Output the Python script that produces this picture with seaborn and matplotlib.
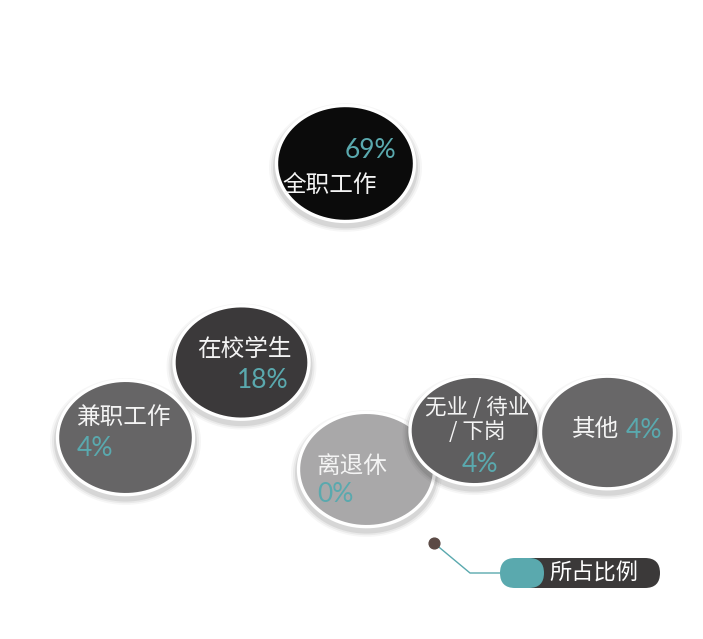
import numpy as np
import pandas as pd
import seaborn as sns
import matplotlib.pyplot as plt
from matplotlib.path import Path
from matplotlib.patches import FancyBboxPatch

sns.set_theme(style="white")
plt.rcParams['font.family'] = ['Noto Sans CJK SC', 'DejaVu Sans']

# data (draw order: back to front)
categories = ['全职工作', '兼职工作', '在校学生', '离退休', '无业 / 待业\n/ 下岗', '其他']
percents = [69, 4, 18, 0, 4, 4]
circle_colors = ['#0b0b0b', '#666566', '#3b393a', '#a9a8a9', '#5f5e5f', '#686768']

# layout in pixel coordinates (image is 703 x 639)
cx = [345, 125, 241, 366, 474, 607]
cy = [163, 437, 362, 469, 430, 432]
widths = [141, 139, 138, 139, 132, 137]
label_pos = [(330, 185), (123, 418), (244, 349), (352, 466), (477, 420), (596, 430)]
label_size = [17, 17, 17, 17, 15.5, 17]
pct_pos = [(370, 151), (95, 448), (263, 380), (335, 495), (480, 464), (644, 430)]

teal = '#5aa9ae'

# ellipse shaped marker (circles are slightly wider than tall)
t = np.linspace(0, 2 * np.pi, 100)
ellipse = Path(np.column_stack([1.19 * np.cos(t), np.sin(t)]), closed=True)

fig = plt.figure(figsize=(7.03, 6.39), dpi=100)
ax = fig.add_axes([0, 0, 1, 1])
ax.set_xlim(0, 703)
ax.set_ylim(639, 0)
ax.axis('off')

px2pt = 0.72
for i, cat in enumerate(categories):
    df = pd.DataFrame({'x': [cx[i]], 'y': [cy[i]], 'cat': [cat]})
    # soft shadow
    for k, a in zip([12, 8, 4], [0.035, 0.05, 0.08]):
        sh = pd.DataFrame({'x': [cx[i]], 'y': [cy[i] + 4]})
        sns.scatterplot(data=sh, x='x', y='y', ax=ax, marker=ellipse,
                        s=((widths[i] + k) * px2pt) ** 2, color='black',
                        alpha=a, linewidth=0, legend=False, zorder=2 * i + 1)
    sns.scatterplot(data=df, x='x', y='y', hue='cat', palette={cat: circle_colors[i]},
                    ax=ax, marker=ellipse, s=((widths[i] - 3) * px2pt) ** 2,
                    edgecolor='white', linewidth=2.4, legend=False, zorder=2 * i + 2)
    lx, ly = label_pos[i]
    px, py = pct_pos[i]
    ax.text(lx, ly, cat, color='#f4f4f4', fontsize=label_size[i], ha='center', va='center',
            linespacing=1.15, zorder=50)
    ax.text(px, py, f'{percents[i]}%', color=teal, fontsize=19, ha='center', va='center',
            family=['Lato', 'DejaVu Sans'], zorder=50)

# legend marker
ax.plot([434, 470, 510], [543, 573, 573], color=teal, lw=1, zorder=60)
ax.scatter([434], [543], s=60, color='#5b4a45', zorder=61)
ax.add_patch(FancyBboxPatch((515, 558), 145, 30, boxstyle='round,pad=0,rounding_size=15',
                            facecolor='#3b3939', edgecolor='none', zorder=62))
ax.add_patch(FancyBboxPatch((500, 558), 44, 30, boxstyle='round,pad=0,rounding_size=15',
                            facecolor=teal, edgecolor='none', zorder=63))
ax.text(594, 573, '所占比例', color='white', fontsize=16, ha='center', va='center', zorder=64)

fig.savefig('out.png', dpi=100, facecolor='white')
